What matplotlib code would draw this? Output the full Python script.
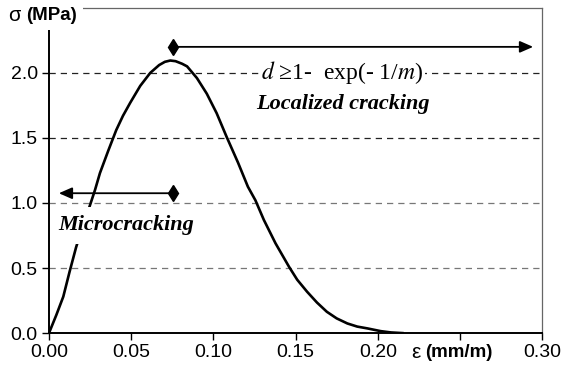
import matplotlib.pyplot as plt
import numpy as np

# curva tension-deformacion
eps = [0.0, 0.0045, 0.0087, 0.0125, 0.0165, 0.0205, 0.0246, 0.028, 0.031, 0.036, 0.0409,
       0.045, 0.0494, 0.0555, 0.0616, 0.067, 0.0705, 0.0738, 0.077, 0.081, 0.084, 0.090,
       0.096, 0.102, 0.108, 0.115, 0.121, 0.1256, 0.1307, 0.1378, 0.146, 0.151, 0.157,
       0.163, 0.169, 0.175, 0.1815, 0.1875, 0.1937, 0.2018, 0.208, 0.215]
sigma = [0.0, 0.14, 0.28, 0.47, 0.66, 0.82, 0.97, 1.10, 1.23, 1.40, 1.56,
         1.67, 1.77, 1.90, 2.0, 2.06, 2.085, 2.095, 2.09, 2.07, 2.05, 1.96,
         1.84, 1.69, 1.51, 1.31, 1.125, 1.02, 0.87, 0.69, 0.51, 0.41, 0.318,
         0.235, 0.164, 0.113, 0.074, 0.05, 0.036, 0.015, 0.005, 0.0]

xticks = [0.00, 0.05, 0.10, 0.15, 0.20, 0.25, 0.30]
xlabels = ['0.00', '0.05', '0.10', '0.15', '0.20', '', '0.30']
yticks = [0.0, 0.5, 1.0, 1.5, 2.0, 2.5]
ylabels = ['0.0', '0.5', '1.0', '1.5', '2.0', '']

# flechas: (inicio, fin, nivel)
flecha_micro = (0.0754, 0.006, 1.075)
flecha_local = (0.0754, 0.2945, 2.2)

plt.rcParams['mathtext.fontset'] = 'stix'

fig = plt.figure(figsize=(5.63, 3.73), dpi=100)
ax = fig.add_axes([0.087, 0.107, 0.876, 0.872])
ax.set_xlim(0, 0.30)
ax.set_ylim(0, 2.5)

# lineas de grilla
for yv, col in zip([0.5, 1.0, 1.5, 2.0], ['#777777', '#777777', '#222222', '#222222']):
    ax.axhline(yv, color=col, lw=0.9, ls=(0, (5, 4)), zorder=1)

ax.plot(eps, sigma, color='black', lw=1.9, zorder=3)

for spine in ['left', 'bottom']:
    ax.spines[spine].set_linewidth(1.4)
    ax.spines[spine].set_color('black')
for spine in ['top', 'right']:
    ax.spines[spine].set_linewidth(0.9)
    ax.spines[spine].set_color('#666666')

ax.set_xticks(xticks)
ax.set_xticklabels(xlabels)
ax.set_yticks(yticks)
ax.set_yticklabels(ylabels)
ax.tick_params(direction='out', length=5, width=1, labelsize=14, pad=3)
for lab in ax.get_xticklabels() + ax.get_yticklabels():
    lab.set_family('Liberation Sans')

# flechas
for x0, x1, yv in [flecha_micro, flecha_local]:
    ax.annotate('', xy=(x1, yv), xytext=(x0, yv),
                arrowprops=dict(arrowstyle='-|>,head_length=0.8,head_width=0.35', color='black',
                                lw=1.3, mutation_scale=10, shrinkA=0, shrinkB=0), zorder=4)
    ax.plot([x0], [yv], marker='d', color='black', ms=8, zorder=5)

# textos
ax.text(0.0055, 0.83, 'Microcracking', family='Liberation Serif', style='italic',
        weight='bold', fontsize=16, ha='left', va='center', zorder=6,
        bbox=dict(facecolor='white', edgecolor='none', pad=6))
ax.text(0.179, 1.76, 'Localized cracking', family='Liberation Serif', style='italic',
        weight='bold', fontsize=16, ha='center', va='center', zorder=6)
ax.text(0.1785, 2.0, r'$d$ ≥1-  exp(- 1/$m$)', family='Liberation Serif',
        fontsize=17, ha='center', va='center', zorder=6,
        bbox=dict(facecolor='white', edgecolor='none', pad=1))

# etiquetas de ejes
fig.text(0.014, 0.958, 'σ', family='Liberation Sans', fontsize=15, ha='left', va='center',
         bbox=dict(facecolor='white', edgecolor='none', pad=2))
fig.text(0.047, 0.958, '(MPa)', family='Liberation Sans', weight='bold', fontsize=13.5,
         ha='left', va='center', bbox=dict(facecolor='white', edgecolor='none', pad=4))
ax.text(0.2205, -0.06, 'ε', family='Liberation Sans', fontsize=15, ha='left', va='center',
        transform=ax.get_xaxis_transform())
ax.text(0.2285, -0.06, '(mm/m)', family='Liberation Sans', weight='bold', fontsize=13.5,
        ha='left', va='center', transform=ax.get_xaxis_transform())

fig.savefig('out.png', dpi=100)
